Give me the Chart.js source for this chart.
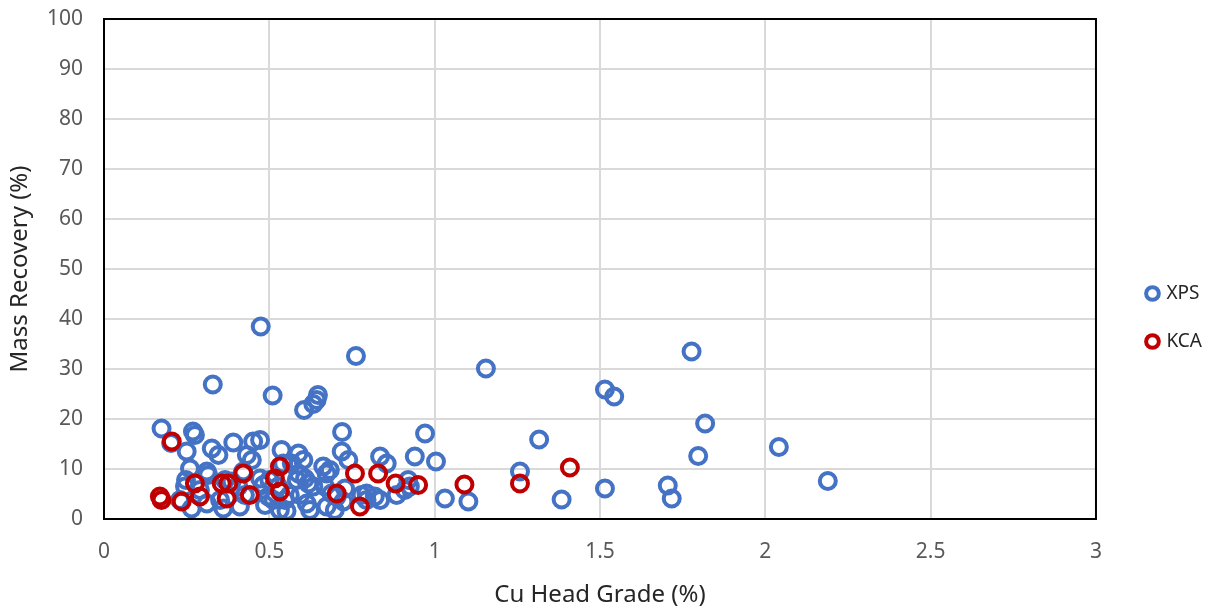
<!DOCTYPE html>
<html>
<head>
<meta charset="utf-8">
<script src="https://cdn.jsdelivr.net/npm/chart.js@4/dist/chart.umd.min.js"></script>
<style>
  html, body { margin: 0; padding: 0; background: #fff; }
  #wrap { width: 1216px; height: 610px; }
</style>
</head>
<body>
<div id="wrap"><canvas id="chart" width="1216" height="610"></canvas></div>
<script>
// Cu head grade (%) and mass recovery (%)
const xpsGrade = [
  0.174, 0.203, 0.269, 0.275, 0.329, 0.474, 0.510, 0.605, 0.633, 0.643,
  0.647, 0.326, 0.346, 0.391, 0.451, 0.472, 0.250, 0.260, 0.311, 0.315,
  0.432, 0.447, 0.421, 0.537, 0.542, 0.603, 0.663, 0.673, 0.633, 0.720,
  0.230, 0.265, 0.311, 0.351, 0.361, 0.411, 0.512, 0.532, 0.552, 0.613,
  0.623, 0.673, 0.583, 0.482, 0.762, 1.155, 0.719, 0.739, 0.835, 0.855,
  0.940, 0.971, 1.004, 1.258, 1.031, 1.102, 0.683, 0.704, 0.724, 0.794,
  0.819, 0.835, 0.885, 0.925, 1.777, 1.515, 1.543, 1.818, 1.316, 1.797,
  1.384, 1.515, 1.705, 1.717, 2.041, 2.189, 0.290, 0.487, 0.562, 0.500,
  0.593, 0.248, 0.245, 0.366, 0.386, 0.406, 0.426, 0.472, 0.497, 0.527,
  0.547, 0.568, 0.588, 0.588, 0.608, 0.618, 0.668, 0.688, 0.698, 0.779,
  0.794, 0.910, 0.920, 0.729
];
const xpsRecovery = [
  18.1, 15.2, 17.5, 16.8, 26.9, 38.5, 24.7, 21.8, 23.0, 23.8,
  24.8, 14.1, 12.8, 15.3, 15.5, 15.8, 13.5, 10.1, 9.5, 8.8,
  12.8, 11.8, 9.5, 13.8, 11.1, 11.8, 10.5, 9.1, 6.5, 17.4,
  3.8, 2.1, 3.1, 3.8, 2.1, 2.5, 3.8, 1.8, 1.6, 3.1,
  1.8, 2.5, 7.8, 6.8, 32.6, 30.1, 13.5, 11.8, 12.5, 11.1,
  12.5, 17.1, 11.5, 9.5, 4.1, 3.5, 9.8, 4.5, 3.5, 5.1,
  4.5, 3.8, 4.8, 6.5, 33.5, 25.9, 24.5, 19.1, 15.9, 12.6,
  3.9, 6.1, 6.7, 4.1, 14.4, 7.6, 5.8, 2.8, 4.8, 7.8,
  4.8, 7.8, 6.5, 7.8, 7.5, 6.5, 4.8, 8.1, 4.5, 6.5,
  3.8, 11.1, 9.1, 13.1, 8.1, 7.1, 6.5, 5.1, 1.8, 4.8,
  3.8, 5.8, 7.8, 6.1
];
const kcaGrade = [
  0.205, 0.169, 0.174, 0.235, 0.275, 0.290, 0.356, 0.376, 0.371, 0.421,
  0.441, 0.532, 0.517, 0.532, 0.704, 0.759, 0.829, 0.882, 0.950, 1.090,
  1.258, 1.409, 0.774
];
const kcaRecovery = [
  15.5, 4.5, 3.8, 3.5, 7.1, 4.5, 7.1, 7.1, 4.1, 9.1,
  4.8, 10.5, 8.1, 5.5, 5.1, 9.1, 9.1, 7.1, 6.8, 6.9,
  7.1, 10.3, 2.5
];

const xTicks = [0, 0.5, 1, 1.5, 2, 2.5, 3];
const yTicks = [0, 10, 20, 30, 40, 50, 60, 70, 80, 90, 100];

function toPoints(xs, ys) {
  return xs.map((x, i) => ({ x: x, y: ys[i] }));
}

// black frame round the plot area
const frame = {
  id: 'frame',
  afterDatasetsDraw(chart) {
    const a = chart.chartArea;
    const ctx = chart.ctx;
    ctx.save();
    ctx.strokeStyle = '#000';
    ctx.lineWidth = 2;
    ctx.strokeRect(a.left, a.top, a.right - a.left, a.bottom - a.top);
    ctx.restore();
  }
};

const font = "'Noto Sans', 'Open Sans', sans-serif";

new Chart(document.getElementById('chart'), {
  type: 'scatter',
  data: {
    datasets: [
      {
        label: 'XPS',
        data: toPoints(xpsGrade, xpsRecovery),
        borderColor: '#4472C4',
        backgroundColor: 'rgba(0,0,0,0)',
        pointRadius: 8,
        pointHoverRadius: 8,
        borderWidth: 4,
        order: 2
      },
      {
        label: 'KCA',
        data: toPoints(kcaGrade, kcaRecovery),
        borderColor: '#C00000',
        backgroundColor: 'rgba(0,0,0,0)',
        pointRadius: 8,
        pointHoverRadius: 8,
        borderWidth: 4,
        order: 1 // red rings sit on top of the blue ones
      }
    ]
  },
  options: {
    responsive: false,
    animation: false,
    layout: { padding: { left: 6, right: 4, top: 19, bottom: 0 } },
    plugins: {
      legend: {
        position: 'right',
        title: { display: true, text: ' ', font: { size: 5 }, padding: 0 },
        labels: {
          usePointStyle: true,
          pointStyle: 'circle',
          boxHeight: 9,
          boxWidth: 9,
          padding: 29,
          color: '#262626',
          font: { family: font, size: 19 },
          sort: (a, b) => a.datasetIndex - b.datasetIndex
        }
      },
      tooltip: { enabled: false }
    },
    scales: {
      x: {
        type: 'linear',
        min: 0,
        max: 3,
        afterBuildTicks: axis => { axis.ticks = xTicks.map(v => ({ value: v })); },
        afterFit: axis => {
          axis.height = 91;
          axis.paddingLeft = 0;
          axis.paddingRight = 0;
        },
        ticks: {
          color: '#595959',
          font: { family: font, size: 21 },
          padding: 20,
          callback: v => String(v)
        },
        grid: { color: '#d9d9d9', lineWidth: 2, drawTicks: false },
        border: { display: false },
        title: {
          display: true,
          text: 'Cu Head Grade (%)',
          color: '#262626',
          font: { family: font, size: 24 },
          padding: { top: 0, bottom: 0 }
        }
      },
      y: {
        type: 'linear',
        min: 0,
        max: 100,
        afterBuildTicks: axis => { axis.ticks = yTicks.map(v => ({ value: v })); },
        afterFit: axis => {
          axis.width = 98;
          axis.paddingTop = 0;
          axis.paddingBottom = 0;
        },
        ticks: {
          color: '#595959',
          font: { family: font, size: 21 },
          padding: 21
        },
        grid: { color: '#d9d9d9', lineWidth: 2, drawTicks: false },
        border: { display: false },
        title: {
          display: true,
          text: 'Mass Recovery (%)',
          color: '#262626',
          font: { family: font, size: 24 },
          padding: { top: 0, bottom: 0 }
        }
      },
      // empty right-hand axis, only to leave the gap before the legend
      gap: {
        type: 'linear',
        position: 'right',
        min: 0,
        max: 100,
        grid: { display: false },
        border: { display: false },
        ticks: { display: false },
        afterFit: axis => {
          axis.width = 23;
          axis.paddingTop = 0;
          axis.paddingBottom = 0;
        }
      }
    }
  },
  plugins: [frame]
});
</script>
</body>
</html>
